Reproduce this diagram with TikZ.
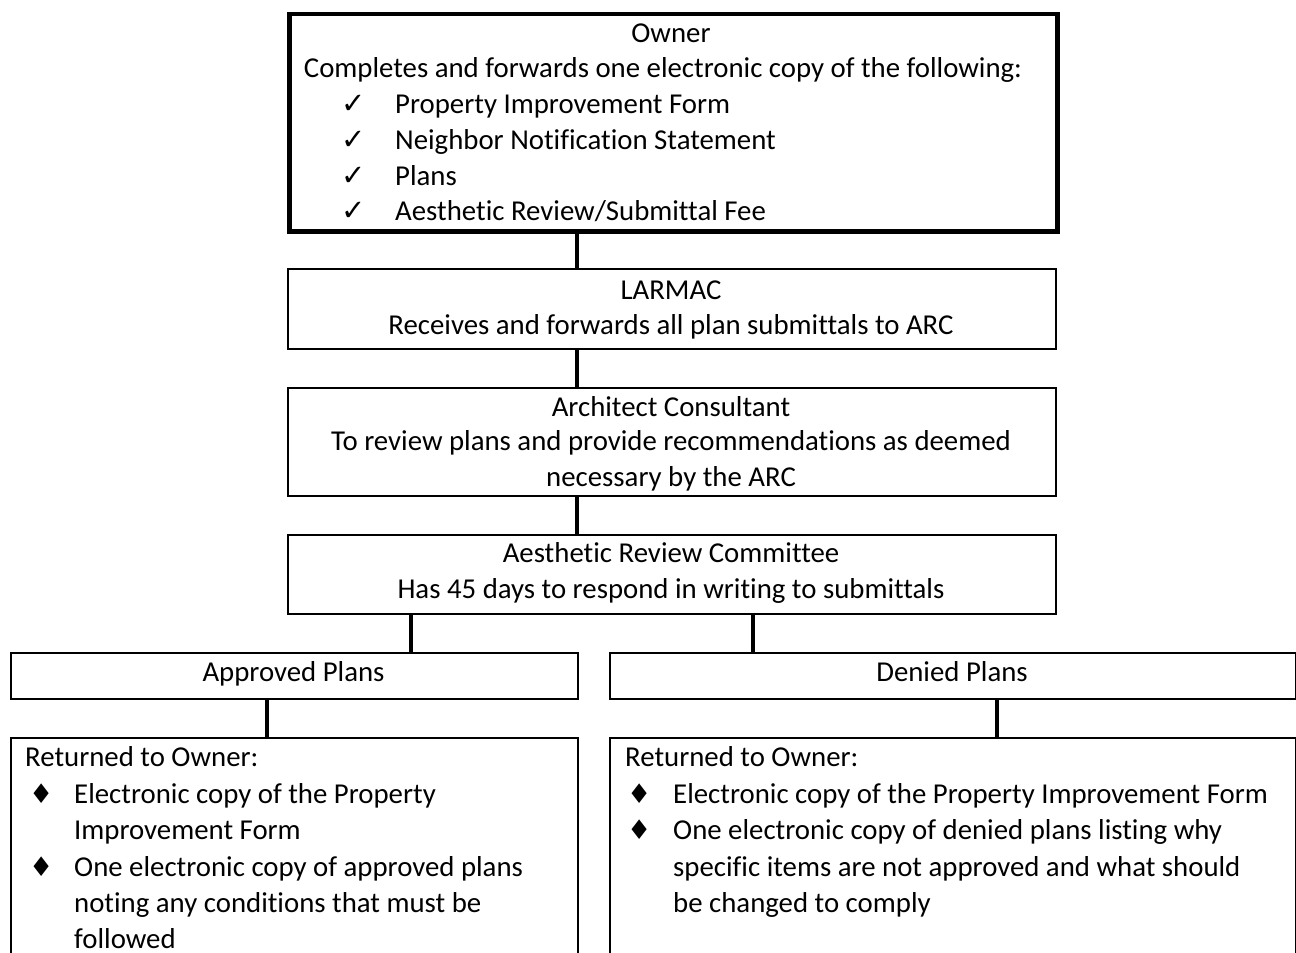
\documentclass[tikz,border=0pt]{standalone}
\usepackage{fontspec}
\setmainfont[Ligatures={NoCommon}]{Carlito}
\newfontfamily\symf{DejaVu Sans}
\usetikzlibrary{calc}
\tikzset{
  box/.style={draw, line width=2.3pt, inner sep=0pt, anchor=north west},
  conn/.style={line width=3.5pt},
  txt/.style={inner sep=0pt, font=\fontsize{28.8}{35.5}\selectfont},
  chk/.style={inner sep=0pt, font=\symf\fontsize{29}{33}\selectfont, anchor=base west},
  dia/.style={inner sep=0pt, font=\symf\fontsize{27}{31}\selectfont, anchor=base west},
}
\begin{document}
\begin{tikzpicture}[x=1pt,y=-1pt]
\useasboundingbox (0,0) rectangle (1296,953);
\clip (0,0) rectangle (1296,953);
% boxes
\node[box, line width=4.5pt, minimum width=768pt, minimum height=217.5pt] (owner) at (287,11.5) {};
\node[box, minimum width=768pt, minimum height=80pt] (larmac) at (287,268) {};
\node[box, minimum width=768pt, minimum height=108pt] (arch) at (287,387) {};
\node[box, minimum width=768pt, minimum height=79pt] (arc) at (287,534) {};
\node[box, minimum width=567pt, minimum height=46pt] (appr) at (10,652) {};
\node[box, minimum width=686pt, minimum height=46pt] (deny) at (609,652) {};
\node[box, minimum width=567pt, minimum height=260pt] (retl) at (10,737) {};
\node[box, minimum width=686pt, minimum height=260pt] (retr) at (609,737) {};
% connectors
\draw[conn] ($(owner.south west)+(290,0)$) -- ($(larmac.north west)+(290,0)$);
\draw[conn] ($(larmac.south west)+(290,0)$) -- ($(arch.north west)+(290,0)$);
\draw[conn] ($(arch.south west)+(290,0)$) -- ($(arc.north west)+(290,0)$);
\draw[conn] ($(arc.south west)+(124,0)$) -- ($(appr.north west)+(401,0)$);
\draw[conn] ($(arc.south west)+(466,0)$) -- ($(deny.north west)+(144,0)$);
\draw[conn] ($(appr.south west)+(257,0)$) -- ($(retl.north west)+(257,0)$);
\draw[conn] ($(deny.south west)+(388,0)$) -- ($(retr.north west)+(388,0)$);
% owner text
\node[txt, anchor=base] (t1) at (671,42) {Owner};
\node[txt, anchor=base] (t2) at (663,77) {Completes and forwards one electronic copy of the following:};
\node[chk] (c1) at (341,113) {✓};
\node[txt, anchor=base west] (i1) at (395,113) {Property Improvement Form};
\node[chk] (c2) at (341,149) {✓};
\node[txt, anchor=base west] (i2) at (395,149) {Neighbor Notification Statement};
\node[chk] (c3) at (341,185) {✓};
\node[txt, anchor=base west] (i3) at (395,185) {Plans};
\node[chk] (c4) at (341,220) {✓};
\node[txt, anchor=base west] (i4) at (395,220) {Aesthetic Review/Submittal Fee};
% larmac
\node[txt, anchor=base] (l1) at (671,299) {LARMAC};
\node[txt, anchor=base] (l2) at (671,334) {Receives and forwards all plan submittals to ARC};
% architect
\node[txt, anchor=base] (a1) at (671,416) {Architect Consultant};
\node[txt, anchor=base] (a2) at (671,450) {To review plans and provide recommendations as deemed};
\node[txt, anchor=base] (a3) at (671,486) {necessary by the ARC};
% ARC
\node[txt, anchor=base] (r1) at (671,562) {Aesthetic Review Committee};
\node[txt, anchor=base] (r2) at (671,598) {Has 45 days to respond in writing to submittals};
% approved / denied
\node[txt, anchor=base] (ap) at (293.5,681) {Approved Plans};
\node[txt, anchor=base] (dp) at (952,681) {Denied Plans};
% returned left
\node[txt, anchor=base west] (rl0) at (25,766) {Returned to Owner:};
\node[dia] (dl1) at (29,803) {♦};
\node[txt, anchor=base west] (rl1) at (74,803) {Electronic copy of the Property};
\node[txt, anchor=base west] (rl2) at (74,839) {Improvement Form};
\node[dia] (dl2) at (29,876) {♦};
\node[txt, anchor=base west] (rl3) at (74,876) {One electronic copy of approved plans};
\node[txt, anchor=base west] (rl4) at (74,912) {noting any conditions that must be};
\node[txt, anchor=base west] (rl5) at (74,948) {followed};
% returned right
\node[txt, anchor=base west] (rr0) at (625,766) {Returned to Owner:};
\node[dia] (dr1) at (627,803) {♦};
\node[txt, anchor=base west] (rr1) at (673,803) {Electronic copy of the Property Improvement Form};
\node[dia] (dr2) at (627,839) {♦};
\node[txt, anchor=base west] (rr2) at (673,839) {One electronic copy of denied plans listing why};
\node[txt, anchor=base west] (rr3) at (673,876) {specific items are not approved and what should};
\node[txt, anchor=base west] (rr4) at (673,912) {be changed to comply};
\end{tikzpicture}
\end{document}
